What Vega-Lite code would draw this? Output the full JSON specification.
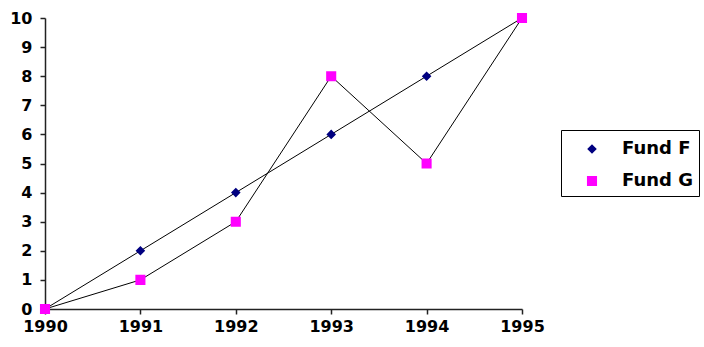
{
  "$schema": "https://vega.github.io/schema/vega-lite/v6.json",
  "width": 477,
  "height": 291,
  "autosize": {"type": "none"},
  "padding": {"left": 45, "top": 18, "right": 182, "bottom": 38},
  "background": "white",
  "config": {
    "view": {"stroke": null},
    "font": "DejaVu Sans",
    "axis": {"grid": false, "domainColor": "#222", "tickColor": "#222", "domainWidth": 1.5, "tickWidth": 1.5, "labelFont": "DejaVu Sans", "labelFontWeight": "bold", "labelFontSize": 16, "labelColor": "black", "title": null}
  },
  "data": {
    "values": [
      {"year": 1990, "series": "Fund F", "value": 0},
      {"year": 1991, "series": "Fund F", "value": 2},
      {"year": 1992, "series": "Fund F", "value": 4},
      {"year": 1993, "series": "Fund F", "value": 6},
      {"year": 1994, "series": "Fund F", "value": 8},
      {"year": 1995, "series": "Fund F", "value": 10},
      {"year": 1990, "series": "Fund G", "value": 0},
      {"year": 1991, "series": "Fund G", "value": 1},
      {"year": 1992, "series": "Fund G", "value": 3},
      {"year": 1993, "series": "Fund G", "value": 8},
      {"year": 1994, "series": "Fund G", "value": 5},
      {"year": 1995, "series": "Fund G", "value": 10}
    ]
  },
  "encoding": {
    "x": {"field": "year", "type": "quantitative", "scale": {"domain": [1990, 1995], "nice": false, "zero": false},
      "axis": {"values": [1990, 1991, 1992, 1993, 1994, 1995], "format": "d", "tickSize": 5, "labelPadding": 4, "labelFlush": false, "labelOverlap": false}},
    "y": {"field": "value", "type": "quantitative", "scale": {"domain": [0, 10], "nice": false},
      "axis": {"values": [0, 1, 2, 3, 4, 5, 6, 7, 8, 9, 10], "tickSize": 5, "labelPadding": 8, "labelOverlap": false, "labelFlush": false}}
  },
  "layer": [
    {
      "mark": {"type": "line", "color": "black", "strokeWidth": 1},
      "encoding": {"detail": {"field": "series", "type": "nominal"}}
    },
    {
      "mark": {"type": "point", "filled": true, "opacity": 1, "size": 576},
      "encoding": {
        "fill": {"field": "series", "type": "nominal", "scale": {"domain": ["Fund F", "Fund G"], "range": ["#000080", "#FF00FF"]},
          "legend": {
            "title": null, "orient": "none", "legendX": 516, "legendY": 112,
            "strokeColor": "black", "padding": 6,
            "symbolSize": 576, "symbolOffset": 12, "labelOffset": 17, "rowPadding": 10,
            "labelFont": "DejaVu Sans", "labelFontWeight": "bold", "labelFontSize": 18, "labelColor": "black",
            "encode": {
              "legend": {"strokeWidth": {"value": 1.5}},
              "symbols": {"stroke": {"value": "black"}, "strokeWidth": {"value": 1}}
            }
          }},
        "shape": {"field": "series", "type": "nominal", "scale": {"domain": ["Fund F", "Fund G"], "range": ["M-2,0L-0.4,0M0.4,0L2,0M0,-0.4L0.4,0L0,0.4L-0.4,0Z", "M-2,0L-0.42,0M0.42,0L2,0M-0.42,-0.42L0.42,-0.42L0.42,0.42L-0.42,0.42Z"]}}
      }
    }
  ]
}
